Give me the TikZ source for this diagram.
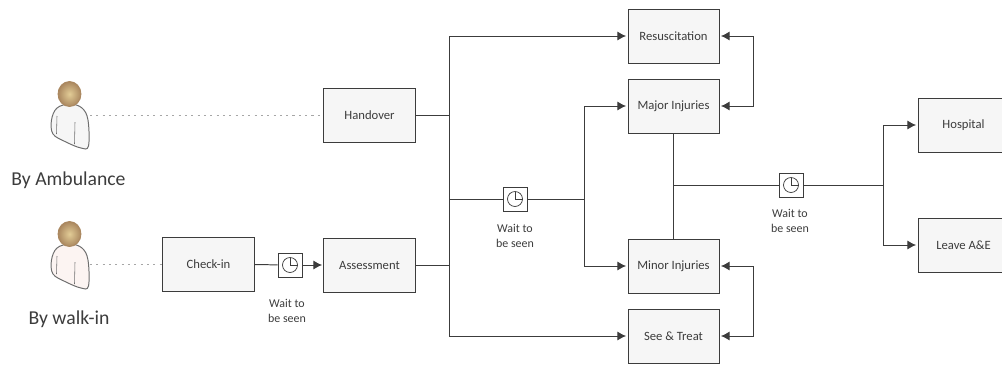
\documentclass[tikz,border=0pt]{standalone}
\usepackage{fontspec}
\setmainfont{Carlito}
\usetikzlibrary{calc, arrows.meta}
\tikzset{>={Latex[length=2.2mm,width=2.3mm]}}
\definecolor{mygray1}{RGB}{60, 60, 60}
\definecolor{mygray2}{RGB}{246, 246, 246}
\definecolor{mygray3}{RGB}{110, 110, 110}
\definecolor{mytan}{RGB}{226, 204, 150}
\definecolor{mybrown}{RGB}{170, 135, 95}
\definecolor{mypink}{RGB}{252, 244, 242}
\tikzset{
  stagebox/.style={draw=mygray1, fill=mygray2, line width=0.7pt, minimum width=2.275cm, minimum height=1.35cm, font=\fontsize{9}{10}\selectfont, text=mygray1},
  clockbox/.style={draw=mygray1, fill=white, line width=0.7pt, minimum size=0.6cm},
  waitlabel/.style={align=center, font=\fontsize{8.5}{11}\selectfont, text=mygray1},
  arrivallabel/.style={font=\fontsize{14}{16}\selectfont, text=mygray1},
  flow/.style={draw=mygray1, line width=0.7pt},
  walkline/.style={draw=gray!70, line width=0.5pt, dash pattern=on 1.5pt off 3pt}
}
\begin{document}
\begin{tikzpicture}[x=0.025cm, y=-0.025cm]
\useasboundingbox (0,0) rectangle (1002,364);
\clip (0,0) rectangle (1002,364);
% the two people
\foreach \py/\tint in {0/mygray2, 140/mypink}{
\begin{scope}[shift={(0,\py)}]
\draw[mygray3, fill = \tint, line width=0.7pt] 
plot [smooth cycle, tension = 0.6] coordinates{(70,104) (82,108) (88,120) (88.5,146) (81,148) (66,142) (53,134) (51.5,120) (57,108)};
\draw[mygray3, line width=0.4pt] (57,116) -- (56.5,134);
\draw[mygray3, line width=0.4pt] (75,122) -- (74.5,144);
\draw[mybrown, inner color = mytan, outer color = mybrown, line width=0.6pt] (69.5,94) circle [x radius = 11.5, y radius = 12.5];
\end{scope}
}
\coordinate (ambulance) at (90,115);
\coordinate (walkin) at (90,264);
\node[arrivallabel] (byambulance) at (68.5,180) {By Ambulance};
\node[arrivallabel] (bywalkin) at (69,319) {By walk-in};
% stages
\node[stagebox] (handover) at (369.5,115) {Handover};
\node[stagebox] (assessment) at (369.5,265) {Assessment};
\node[stagebox] (checkin) at (208.5,264) {Check-in};
\node[stagebox] (resus) at (673.5,36) {Resuscitation};
\node[stagebox] (major) at (673.5,106) {Major Injuries};
\node[stagebox] (minor) at (673.5,266) {Minor Injuries};
\node[stagebox] (treat) at (673.5,336) {See \& Treat};
\node[stagebox] (hospital) at (963.5,125) {Hospital};
\node[stagebox] (leave) at (963.5,245) {Leave A\&E};
% waits
\node[clockbox] (clockA) at (290,265) {};
\node[clockbox] (clockB) at (515,199) {};
\node[clockbox] (clockC) at (791,185) {};
\foreach \c in {clockA, clockB, clockC}{
\draw[mygray1, line width=0.5pt] (\c.center) circle (7.5);
\draw[mygray1, line width=0.5pt] ($(\c.center)+(0,-7.5)$) -- (\c.center) -- ($(\c.center)+(7.5,0)$);
}
\node[waitlabel] (waitA) at (287,311) {Wait to\\be seen};
\node[waitlabel] (waitB) at (515,236) {Wait to\\be seen};
\node[waitlabel] (waitC) at (790,221) {Wait to\\be seen};
\coordinate (busA) at (449,199);
\coordinate (busB) at (584,199);
\coordinate (join) at (673.5,185);
\coordinate (busC) at (883,185);
% dotted walks
\draw[walkline] (ambulance) -- (handover);
\draw[walkline] (walkin) -- (checkin);
% flow lines
\draw[flow] (checkin) -- (clockA);
\draw[flow, ->, shorten >=1pt] (clockA) -- (assessment);
\draw[flow] (handover) -- (busA |- handover);
\draw[flow] (assessment) -- (busA |- assessment);
\draw[flow, ->, shorten >=1pt] (busA |- resus) -- (resus);
\draw[flow, ->, shorten >=1pt] (busA |- treat) -- (treat);
\draw[flow] (busA |- resus) -- (busA |- treat);
\draw[flow] (busA) -- (clockB);
\draw[flow] (clockB) -- (busB);
\draw[flow, ->, shorten >=1pt] (busB |- major) -- (major);
\draw[flow, ->, shorten >=1pt] (busB |- minor) -- (minor);
\draw[flow] (busB |- major) -- (busB |- minor);
\draw[flow, <->, shorten >=1pt, shorten <=1pt] (resus.east) -- ++(34,0) |- (major.east);
\draw[flow, <->, shorten >=1pt, shorten <=1pt] (minor.east) -- ++(34,0) |- (treat.east);
\draw[flow] (major) -- (minor);
\draw[flow] (join) -- (clockC);
\draw[flow] (clockC) -- (busC);
\draw[flow, ->, shorten >=1pt] (busC |- hospital) -- (hospital);
\draw[flow, ->, shorten >=1pt] (busC |- leave) -- (leave);
\draw[flow] (busC |- hospital) -- (busC |- leave);
\end{tikzpicture}
\end{document}
